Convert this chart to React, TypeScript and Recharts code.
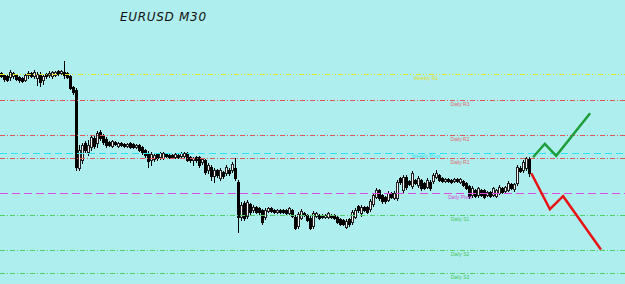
import React from 'react';
import { ComposedChart, Bar, Line, XAxis, YAxis, ReferenceLine } from 'recharts';

// EURUSD M30 candles (oldest -> newest)
const opens = [
  1.1927, 1.1925, 1.1924, 1.1923, 1.1924, 1.1925, 1.1923, 1.1922, 1.1920, 1.1925,
  1.1927, 1.1924, 1.1922, 1.1925, 1.1920, 1.1926, 1.1925, 1.1924, 1.1925, 1.1929,
  1.1927, 1.1928, 1.1927, 1.1924, 1.1913, 1.1910, 1.1832, 1.1840, 1.1857, 1.1848,
  1.1853, 1.1862, 1.1857, 1.1868, 1.1864, 1.1861, 1.1858, 1.1854, 1.1858, 1.1854,
  1.1857, 1.1856, 1.1854, 1.1857, 1.1856, 1.1853, 1.1855, 1.1853, 1.1850, 1.1847,
  1.1840, 1.1841, 1.1846, 1.1843, 1.1842, 1.1846, 1.1845, 1.1845, 1.1843, 1.1845,
  1.1844, 1.1844, 1.1847, 1.1843, 1.1840, 1.1843, 1.1843, 1.1838, 1.1840, 1.1830,
  1.1833, 1.1824, 1.1830, 1.1822, 1.1828, 1.1827, 1.1830, 1.1830, 1.1832, 1.1818,
  1.1783, 1.1797, 1.1784, 1.1796, 1.1790, 1.1793, 1.1792, 1.1790, 1.1783, 1.1789,
  1.1792, 1.1790, 1.1788, 1.1790, 1.1790, 1.1790, 1.1787, 1.1790, 1.1783, 1.1774,
  1.1782, 1.1787, 1.1785, 1.1782, 1.1774, 1.1784, 1.1785, 1.1785, 1.1783, 1.1783,
  1.1785, 1.1785, 1.1783, 1.1781, 1.1780, 1.1773, 1.1781, 1.1778, 1.1783, 1.1794,
  1.1787, 1.1793, 1.1793, 1.1791, 1.1796, 1.1803, 1.1810, 1.1805, 1.1803, 1.1800,
  1.1807, 1.1802, 1.1802, 1.1822, 1.1810, 1.1823, 1.1819, 1.1814, 1.1820, 1.1815,
  1.1820, 1.1817, 1.1813, 1.1818, 1.1819, 1.1823, 1.1825, 1.1822, 1.1819, 1.1821,
  1.1820, 1.1819, 1.1821, 1.1818, 1.1819, 1.1817, 1.1814, 1.1805, 1.1810, 1.1805,
  1.1810, 1.1810, 1.1805, 1.1808, 1.1805, 1.1804, 1.1807, 1.1812, 1.1809, 1.1810,
  1.1816, 1.1811, 1.1817, 1.1832, 1.1830, 1.1832, 1.1841,
];
const highs = [
  1.1928, 1.1926, 1.1925, 1.1930, 1.1928, 1.1926, 1.1924, 1.1923, 1.1926, 1.1929,
  1.1928, 1.1930, 1.1928, 1.1928, 1.1926, 1.1927, 1.1929, 1.1929, 1.1929, 1.1930,
  1.1930, 1.1939, 1.1928, 1.1925, 1.1914, 1.1912, 1.1855, 1.1857, 1.1859, 1.1860,
  1.1865, 1.1864, 1.1869, 1.1870, 1.1866, 1.1863, 1.1859, 1.1860, 1.1859, 1.1858,
  1.1858, 1.1857, 1.1857, 1.1858, 1.1857, 1.1856, 1.1856, 1.1854, 1.1851, 1.1849,
  1.1848, 1.1847, 1.1847, 1.1848, 1.1848, 1.1847, 1.1846, 1.1846, 1.1847, 1.1846,
  1.1848, 1.1848, 1.1848, 1.1844, 1.1843, 1.1844, 1.1844, 1.1842, 1.1841, 1.1837,
  1.1835, 1.1832, 1.1831, 1.1832, 1.1829, 1.1835, 1.1832, 1.1838, 1.1842, 1.1820,
  1.1798, 1.1799, 1.1800, 1.1797, 1.1795, 1.1794, 1.1793, 1.1791, 1.1792, 1.1793,
  1.1793, 1.1791, 1.1791, 1.1791, 1.1791, 1.1791, 1.1793, 1.1791, 1.1785, 1.1788,
  1.1791, 1.1788, 1.1786, 1.1784, 1.1789, 1.1788, 1.1786, 1.1786, 1.1786, 1.1788,
  1.1786, 1.1786, 1.1784, 1.1782, 1.1781, 1.1781, 1.1782, 1.1790, 1.1792, 1.1795,
  1.1795, 1.1794, 1.1794, 1.1801, 1.1807, 1.1812, 1.1811, 1.1806, 1.1804, 1.1809,
  1.1808, 1.1809, 1.1820, 1.1823, 1.1825, 1.1825, 1.1820, 1.1829, 1.1821, 1.1824,
  1.1821, 1.1818, 1.1822, 1.1820, 1.1827, 1.1830, 1.1826, 1.1823, 1.1822, 1.1822,
  1.1821, 1.1822, 1.1822, 1.1822, 1.1820, 1.1818, 1.1815, 1.1814, 1.1811, 1.1813,
  1.1811, 1.1811, 1.1809, 1.1809, 1.1813, 1.1811, 1.1815, 1.1813, 1.1814, 1.1819,
  1.1817, 1.1817, 1.1835, 1.1834, 1.1840, 1.1843, 1.1843,
];
const lows = [
  1.1923, 1.1919, 1.1919, 1.1920, 1.1922, 1.1920, 1.1918, 1.1918, 1.1919, 1.1922,
  1.1923, 1.1922, 1.1915, 1.1914, 1.1916, 1.1922, 1.1923, 1.1922, 1.1924, 1.1925,
  1.1926, 1.1922, 1.1922, 1.1911, 1.1906, 1.1830, 1.1830, 1.1837, 1.1848, 1.1845,
  1.1850, 1.1852, 1.1853, 1.1860, 1.1856, 1.1853, 1.1854, 1.1853, 1.1855, 1.1853,
  1.1854, 1.1853, 1.1853, 1.1852, 1.1852, 1.1852, 1.1849, 1.1846, 1.1843, 1.1833,
  1.1835, 1.1839, 1.1840, 1.1841, 1.1841, 1.1843, 1.1842, 1.1842, 1.1842, 1.1842,
  1.1843, 1.1842, 1.1839, 1.1838, 1.1835, 1.1838, 1.1833, 1.1836, 1.1826, 1.1827,
  1.1820, 1.1818, 1.1823, 1.1820, 1.1822, 1.1825, 1.1825, 1.1828, 1.1820, 1.1768,
  1.1780, 1.1780, 1.1782, 1.1786, 1.1788, 1.1787, 1.1786, 1.1776, 1.1781, 1.1788,
  1.1788, 1.1787, 1.1787, 1.1787, 1.1787, 1.1786, 1.1786, 1.1783, 1.1771, 1.1772,
  1.1781, 1.1784, 1.1779, 1.1771, 1.1772, 1.1783, 1.1781, 1.1782, 1.1782, 1.1782,
  1.1782, 1.1781, 1.1777, 1.1775, 1.1775, 1.1772, 1.1774, 1.1776, 1.1782, 1.1788,
  1.1784, 1.1789, 1.1787, 1.1789, 1.1794, 1.1802, 1.1800, 1.1797, 1.1797, 1.1799,
  1.1802, 1.1801, 1.1800, 1.1816, 1.1808, 1.1811, 1.1815, 1.1812, 1.1816, 1.1813,
  1.1810, 1.1811, 1.1812, 1.1810, 1.1817, 1.1822, 1.1819, 1.1818, 1.1818, 1.1818,
  1.1817, 1.1818, 1.1818, 1.1817, 1.1814, 1.1811, 1.1802, 1.1803, 1.1803, 1.1803,
  1.1804, 1.1802, 1.1804, 1.1803, 1.1804, 1.1803, 1.1806, 1.1807, 1.1808, 1.1809,
  1.1811, 1.1809, 1.1815, 1.1828, 1.1828, 1.1830, 1.1824,
];
const closes = [
  1.1924, 1.1921, 1.1920, 1.1928, 1.1927, 1.1921, 1.1920, 1.1919, 1.1925, 1.1927,
  1.1924, 1.1928, 1.1926, 1.1918, 1.1924, 1.1924, 1.1927, 1.1928, 1.1928, 1.1926,
  1.1929, 1.1925, 1.1923, 1.1912, 1.1908, 1.1833, 1.1850, 1.1855, 1.1850, 1.1855,
  1.1863, 1.1854, 1.1867, 1.1862, 1.1858, 1.1855, 1.1855, 1.1859, 1.1856, 1.1857,
  1.1855, 1.1854, 1.1856, 1.1853, 1.1853, 1.1855, 1.1850, 1.1848, 1.1845, 1.1839,
  1.1846, 1.1845, 1.1842, 1.1847, 1.1847, 1.1844, 1.1843, 1.1843, 1.1846, 1.1843,
  1.1847, 1.1847, 1.1840, 1.1840, 1.1842, 1.1840, 1.1835, 1.1841, 1.1828, 1.1835,
  1.1824, 1.1830, 1.1825, 1.1830, 1.1824, 1.1833, 1.1827, 1.1836, 1.1822, 1.1783,
  1.1795, 1.1782, 1.1798, 1.1788, 1.1793, 1.1788, 1.1788, 1.1778, 1.1790, 1.1792,
  1.1789, 1.1788, 1.1790, 1.1788, 1.1788, 1.1787, 1.1792, 1.1784, 1.1772, 1.1786,
  1.1789, 1.1785, 1.1780, 1.1772, 1.1787, 1.1787, 1.1782, 1.1783, 1.1785, 1.1787,
  1.1783, 1.1782, 1.1778, 1.1776, 1.1776, 1.1779, 1.1776, 1.1788, 1.1790, 1.1790,
  1.1793, 1.1790, 1.1788, 1.1799, 1.1805, 1.1810, 1.1802, 1.1799, 1.1799, 1.1807,
  1.1803, 1.1807, 1.1818, 1.1818, 1.1823, 1.1813, 1.1816, 1.1827, 1.1817, 1.1822,
  1.1812, 1.1812, 1.1820, 1.1812, 1.1825, 1.1827, 1.1820, 1.1819, 1.1821, 1.1819,
  1.1818, 1.1821, 1.1819, 1.1821, 1.1815, 1.1812, 1.1804, 1.1812, 1.1804, 1.1812,
  1.1805, 1.1803, 1.1808, 1.1804, 1.1812, 1.1810, 1.1813, 1.1808, 1.1813, 1.1817,
  1.1812, 1.1816, 1.1833, 1.1829, 1.1838, 1.1842, 1.1827,
];

// Projection zigzags (bar index, price)
const greenPathBars = [177.2, 181.1, 184.9, 196.2];
const greenPathPrices = [1.18433, 1.18567, 1.18447, 1.18873];
const redPathBars = [176.6, 182.8, 187.2, 199.8];
const redPathPrices = [1.18273, 1.17913, 1.18043, 1.1751];

// Pivot levels
const levelNames = ['Weekly R1', 'Daily R3', 'Daily R2', 'Weekly Pivot', 'Daily R1', 'Daily Pivot', 'Daily S1', 'Daily S2', 'Daily S3'];
const levelPrices = [1.1926, 1.19, 1.1865, 1.1847, 1.1842, 1.1807, 1.1785, 1.175, 1.1727];

const levelStyle: Record<string, { stroke: string; text: string; dash: string; cx: number; dy: number }> = {
  'Weekly R1': { stroke: '#e4e41c', text: '#e0e020', dash: '5 2 1 2 1 2', cx: 426, dy: 5.5 },
  'Daily R3': { stroke: '#de5a5a', text: '#e06868', dash: '5 2 1 2', cx: 460, dy: 5.5 },
  'Daily R2': { stroke: '#de5a5a', text: '#e06868', dash: '5 2 1 2', cx: 460, dy: 5.5 },
  'Weekly Pivot': { stroke: '#2ee2f0', text: '#2ee2f0', dash: '7 4', cx: 426, dy: 4.5 },
  'Daily R1': { stroke: '#de5a5a', text: '#e06868', dash: '5 2 1 2', cx: 460, dy: 5.5 },
  'Daily Pivot': { stroke: '#dc4ce0', text: '#d848d8', dash: '8 4', cx: 460, dy: 5 },
  'Daily S1': { stroke: '#52d064', text: '#48c660', dash: '5 2 1 2', cx: 460, dy: 5.5 },
  'Daily S2': { stroke: '#52d064', text: '#48c660', dash: '5 2 1 2', cx: 460, dy: 5.5 },
  'Daily S3': { stroke: '#52d064', text: '#48c660', dash: '5 2 1 2', cx: 460, dy: 5.5 },
};

const candleData = opens.map((o, k) => ({
  i: k,
  o,
  h: highs[k],
  l: lows[k],
  c: closes[k],
  range: [lows[k], highs[k]],
}));
const greenData = greenPathBars.map((b, k) => ({ i: b, v: greenPathPrices[k] }));
const redData = redPathBars.map((b, k) => ({ i: b, v: redPathPrices[k] }));

const Candle = (props: any) => {
  const { x, y, width, height, payload } = props;
  if (x == null || y == null || !payload) return null;
  const { o, h, l, c } = payload;
  const top0 = height < 0 ? y + height : y;
  const hh = Math.abs(height);
  const py = (v: number) => top0 + ((h - v) / (h - l || 1)) * hh;
  const center = Math.floor(x + width / 2);
  const bull = c >= o;
  const bTop = Math.floor(py(Math.max(o, c)));
  const bBot = Math.floor(py(Math.min(o, c)));
  const wTop = Math.floor(py(h));
  const wBot = Math.floor(py(l)) + 1;
  return (
    <g shapeRendering="crispEdges">
      <line x1={center + 0.5} x2={center + 0.5} y1={wTop} y2={wBot} stroke="#000" strokeWidth={1} />
      {bull ? (
        <rect x={center - 0.5} y={bTop + 0.5} width={2} height={Math.max(bBot - bTop, 1)} fill="#f4f4f4" stroke="#222" strokeWidth={1} />
      ) : (
        <rect x={center - 1} y={bTop} width={3} height={bBot - bTop + 1} fill="#000" />
      )}
    </g>
  );
};

export default function App() {
  return (
    <div style={{ position: 'absolute', left: 0, top: 0, width: 625, height: 284, background: '#afeeee', overflow: 'hidden' }}>
      <ComposedChart width={625} height={284} data={candleData} margin={{ top: 0, right: 0, bottom: 0, left: 0 }}>
        <XAxis dataKey="i" type="number" hide domain={[-0.5, 207.8333]} allowDataOverflow />
        <YAxis hide domain={[1.17165, 1.20005]} allowDataOverflow />
        {levelNames.map((name, k) => {
          const s = levelStyle[name];
          return (
            <ReferenceLine
              key={name}
              y={levelPrices[k]}
              stroke={s.stroke}
              strokeWidth={1}
              strokeDasharray={s.dash}
              ifOverflow="visible"
              label={(p: any) => (
                <text
                  x={(p.viewBox?.x ?? 0) + s.cx}
                  y={(p.viewBox?.y ?? 0) + s.dy}
                  textAnchor="middle"
                  fontFamily="Liberation Sans, Arial, sans-serif"
                  fontSize={5}
                  fill={s.text}
                >
                  {name}
                </text>
              )}
            />
          );
        })}
        <Bar dataKey="range" barSize={3} isAnimationActive={false} shape={(p: any) => <Candle {...p} />} />
        <Line data={greenData} dataKey="v" type="linear" stroke="#1e9e3a" strokeWidth={2.5} dot={false} activeDot={false} isAnimationActive={false} />
        <Line data={redData} dataKey="v" type="linear" stroke="#e81414" strokeWidth={2.5} dot={false} activeDot={false} isAnimationActive={false} />
      </ComposedChart>
      <div
        style={{
          position: 'absolute',
          left: 120,
          top: 11,
          fontFamily: 'DejaVu Sans, sans-serif',
          fontStyle: 'italic',
          fontSize: 12,
          lineHeight: '12px',
          letterSpacing: 0.7,
          color: '#111',
          whiteSpace: 'nowrap',
        }}
      >
        EURUSD M30
      </div>
    </div>
  );
}
